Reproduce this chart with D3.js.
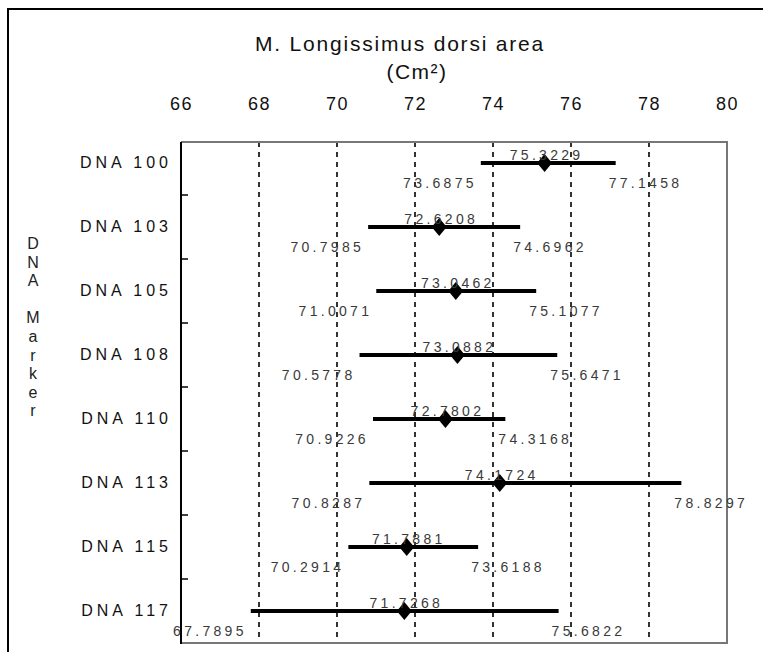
<!DOCTYPE html>
<html>
<head>
<meta charset="utf-8">
<script src="https://cdn.jsdelivr.net/npm/d3@7"></script>
<style>
  html, body { margin: 0; padding: 0; background: #fff; }
  svg { display: block; }
  text { font-family: "Liberation Sans", Arial, sans-serif; }
</style>
</head>
<body>
<div id="chart"></div>
<script>
// data
const markers = ["DNA 100", "DNA 103", "DNA 105", "DNA 108", "DNA 110", "DNA 113", "DNA 115", "DNA 117"];
const means = [75.3229, 72.6208, 73.0462, 73.0882, 72.7802, 74.1724, 71.7881, 71.7268];
const lows = [73.6875, 70.7985, 71.0071, 70.5778, 70.9226, 70.8287, 70.2914, 67.7895];
const highs = [77.1458, 74.6962, 75.1077, 75.6471, 74.3168, 78.8297, 73.6188, 75.6822];
const xTicks = [66, 68, 70, 72, 74, 76, 78, 80];
const gridValues = [68, 70, 72, 74, 76, 78];
const titleLines = ["M. Longissimus dorsi area", "(Cm²)"];
const yTitle = "DNA Marker";

const width = 763, height = 652;
const plot = {left: 181, right: 727, top: 142, bottom: 643};

const svg = d3.select("#chart").append("svg")
  .attr("width", width)
  .attr("height", height);

// outer frame (runs off the right and bottom edges)
svg.append("rect")
  .attr("x", 8).attr("y", 9)
  .attr("width", width + 20).attr("height", height + 20)
  .attr("fill", "none")
  .attr("stroke", "#000")
  .attr("stroke-width", 2);

const x = d3.scaleLinear()
  .domain([66, 80])
  .range([plot.left, plot.right]);

const y = d3.scaleBand()
  .domain(markers)
  .range([plot.bottom - 64 * markers.length, plot.bottom]);

const rows = markers.map((m, i) => ({name: m, mean: means[i], low: lows[i], high: highs[i]}));

// title
svg.append("text")
  .attr("x", 400).attr("y", 51)
  .attr("text-anchor", "middle")
  .style("font-size", "21px")
  .style("letter-spacing", "1.8px")
  .attr("fill", "#111")
  .text(titleLines[0]);
svg.append("text")
  .attr("x", 417).attr("y", 79)
  .attr("text-anchor", "middle")
  .style("font-size", "21px")
  .style("letter-spacing", "1.5px")
  .attr("fill", "#111")
  .text(titleLines[1]);

// top axis labels
const xAxis = svg.append("g")
  .attr("transform", "translate(0,110)")
  .call(d3.axisTop(x).tickValues(xTicks).tickSize(0).tickPadding(0));
xAxis.select(".domain").remove();
xAxis.selectAll("text")
  .attr("dy", 0)
  .attr("fill", "#111")
  .style("font-family", "'Liberation Sans', Arial, sans-serif")
  .style("font-size", "18px")
  .style("letter-spacing", "1.5px");

// dashed grid
svg.append("g").selectAll("line")
  .data(gridValues)
  .enter()
  .append("line")
  .attr("x1", d => x(d)).attr("x2", d => x(d))
  .attr("y1", plot.top).attr("y2", plot.bottom)
  .attr("stroke", "#000")
  .attr("stroke-width", 1.6)
  .attr("stroke-dasharray", "5,5");

// plot frame
svg.append("path")
  .attr("d", `M${plot.left},${plot.top}H${plot.right}V${plot.bottom}H${plot.left}`)
  .attr("fill", "none")
  .attr("stroke", "#777")
  .attr("stroke-width", 2);

// left axis with inward ticks between categories
svg.append("line")
  .attr("x1", plot.left).attr("x2", plot.left)
  .attr("y1", plot.top).attr("y2", plot.bottom + 1)
  .attr("stroke", "#000")
  .attr("stroke-width", 2);
svg.append("g").selectAll("line")
  .data(markers.slice(1))
  .enter()
  .append("line")
  .attr("x1", plot.left).attr("x2", plot.left + 7)
  .attr("y1", d => y(d)).attr("y2", d => y(d))
  .attr("stroke", "#000")
  .attr("stroke-width", 1.5);

// category labels
svg.append("g").selectAll("text")
  .data(markers)
  .enter()
  .append("text")
  .attr("x", 172)
  .attr("y", d => y(d) + y.bandwidth() / 2 + 5)
  .attr("text-anchor", "end")
  .style("font-size", "16px")
  .style("letter-spacing", "4px")
  .attr("fill", "#111")
  .text(d => d);

// vertical axis title, one letter per line
svg.append("g").selectAll("text")
  .data(yTitle.split(""))
  .enter()
  .append("text")
  .attr("x", 33)
  .attr("y", (d, i) => 249 + i * 18.6)
  .attr("text-anchor", "middle")
  .style("font-size", "16px")
  .attr("fill", "#222")
  .text(d => d);

// error bars
const g = svg.append("g");
const cy = d => y(d.name) + y.bandwidth() / 2;

g.selectAll("line.bar")
  .data(rows)
  .enter()
  .append("line")
  .attr("class", "bar")
  .attr("x1", d => x(d.low)).attr("x2", d => x(d.high))
  .attr("y1", cy).attr("y2", cy)
  .attr("stroke", "#000")
  .attr("stroke-width", 4);

g.selectAll("path.mean")
  .data(rows)
  .enter()
  .append("path")
  .attr("class", "mean")
  .attr("d", "M0,-9L7.5,0L0,9L-7.5,0Z")
  .attr("transform", d => `translate(${x(d.mean)},${cy(d)})`)
  .attr("fill", "#000");

// value labels
const labelStyle = sel => sel
  .style("font-size", "14px")
  .style("letter-spacing", "3.3px")
  .attr("fill", "#3a3a3a");

g.selectAll("text.mean")
  .data(rows)
  .enter()
  .append("text")
  .attr("class", "mean")
  .attr("x", d => x(d.mean) + 2)
  .attr("y", d => cy(d) - 3)
  .attr("text-anchor", "middle")
  .call(labelStyle)
  .text(d => d.mean.toFixed(4));

g.selectAll("text.low")
  .data(rows)
  .enter()
  .append("text")
  .attr("class", "low")
  .attr("x", d => x(d.low) - 4)
  .attr("y", d => cy(d) + 25)
  .attr("text-anchor", "end")
  .call(labelStyle)
  .text(d => d.low.toFixed(4));

g.selectAll("text.high")
  .data(rows)
  .enter()
  .append("text")
  .attr("class", "high")
  .attr("x", d => x(d.high) - 7)
  .attr("y", d => cy(d) + 25)
  .attr("text-anchor", "start")
  .call(labelStyle)
  .text(d => d.high.toFixed(4));
</script>
</body>
</html>
